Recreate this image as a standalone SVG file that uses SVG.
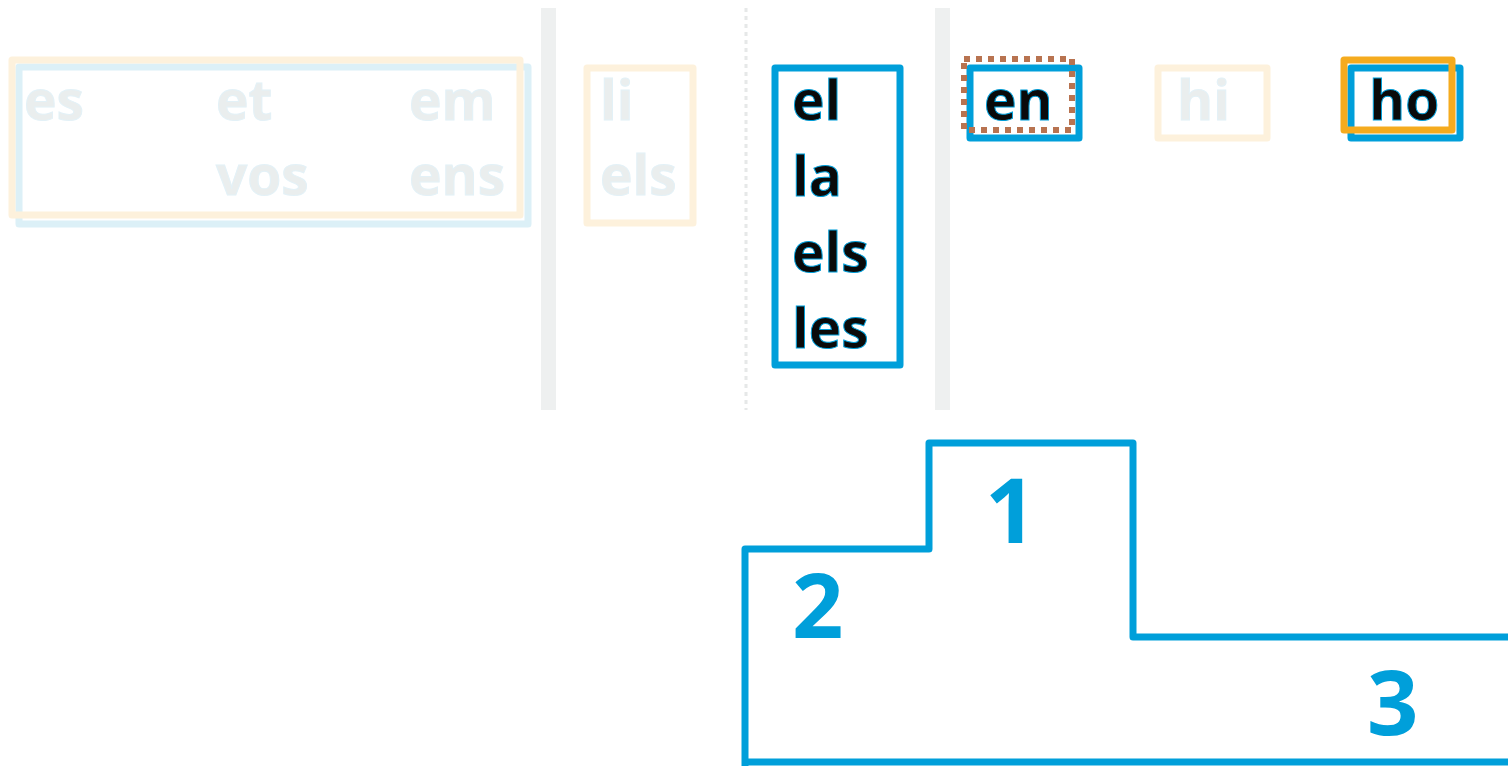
<svg xmlns="http://www.w3.org/2000/svg" width="1508" height="766" viewBox="0 0 1508 766">
<style>
.w{font-family:"Open Sans","Liberation Sans",sans-serif;font-weight:700;font-size:55px}
.dim{fill:#eaeeee;stroke:#e3f1f7;stroke-width:1}
.act{fill:#0a0a0a;stroke:#009fda;stroke-width:1}
.num{font-family:"Open Sans","Liberation Sans",sans-serif;font-weight:700;font-size:90px;fill:#009fda}
.lb{fill:none;stroke:#dcf0f7;stroke-width:7;stroke-linejoin:round}
.lo{fill:none;stroke:#fdf1dc;stroke-width:7;stroke-linejoin:round}
.bl{fill:none;stroke:#009fda;stroke-width:7;stroke-linejoin:round}
.or{fill:none;stroke:#f5ab1e;stroke-width:7;stroke-linejoin:round}
.dot{fill:none;stroke:#b87350;stroke-width:6;stroke-dasharray:6 6}
.bar{fill:#eef0f0}
</style>
<rect class="bar" x="541" y="8" width="15" height="402"/>
<rect class="bar" x="935" y="8" width="15" height="402"/>
<line x1="746" y1="8" x2="746" y2="410" stroke="#e6e8e8" stroke-width="3" stroke-dasharray="4 4"/>
<g id="group1">
<rect class="lb" x="19" y="67" width="509" height="157"/>
<rect class="lo" x="12" y="60" width="508" height="155"/>
<text class="w dim" x="24" y="120">es</text>
<text class="w dim" x="216" y="120">et</text>
<text class="w dim" x="409" y="120">em</text>
<text class="w dim" x="216" y="195">vos</text>
<text class="w dim" x="409" y="195">ens</text>
</g>
<g id="group2">
<rect class="lo" x="587" y="68" width="106" height="155"/>
<text class="w dim" x="600" y="120">li</text>
<text class="w dim" x="600" y="195">els</text>
</g>
<g id="group3">
<rect class="bl" x="775" y="68" width="125" height="297"/>
<text class="w act" x="792" y="120">el</text>
<text class="w act" x="792" y="196">la</text>
<text class="w act" x="792" y="272">els</text>
<text class="w act" x="792" y="348">les</text>
</g>
<g id="en">
<rect class="bl" x="970" y="68" width="109" height="70"/>
<rect class="dot" x="964" y="59" width="108" height="71"/>
<text class="w act" x="984" y="120">en</text>
</g>
<g id="hi">
<rect class="lo" x="1158" y="68" width="109" height="70"/>
<text class="w dim" x="1177" y="120">hi</text>
</g>
<g id="ho">
<rect class="bl" x="1351" y="68" width="109" height="70"/>
<rect class="or" x="1344" y="60" width="108" height="70"/>
<text class="w act" x="1369" y="120">ho</text>
</g>
<g id="podium">
<path class="bl" d="M745,770 V549 H929 V443 H1133 V637 H1512"/>
<path class="bl" d="M745,762 H1512"/>
<text class="num" x="985" y="543">1</text>
<text class="num" x="792" y="638">2</text>
<text class="num" x="1367" y="735">3</text>
</g>
</svg>
